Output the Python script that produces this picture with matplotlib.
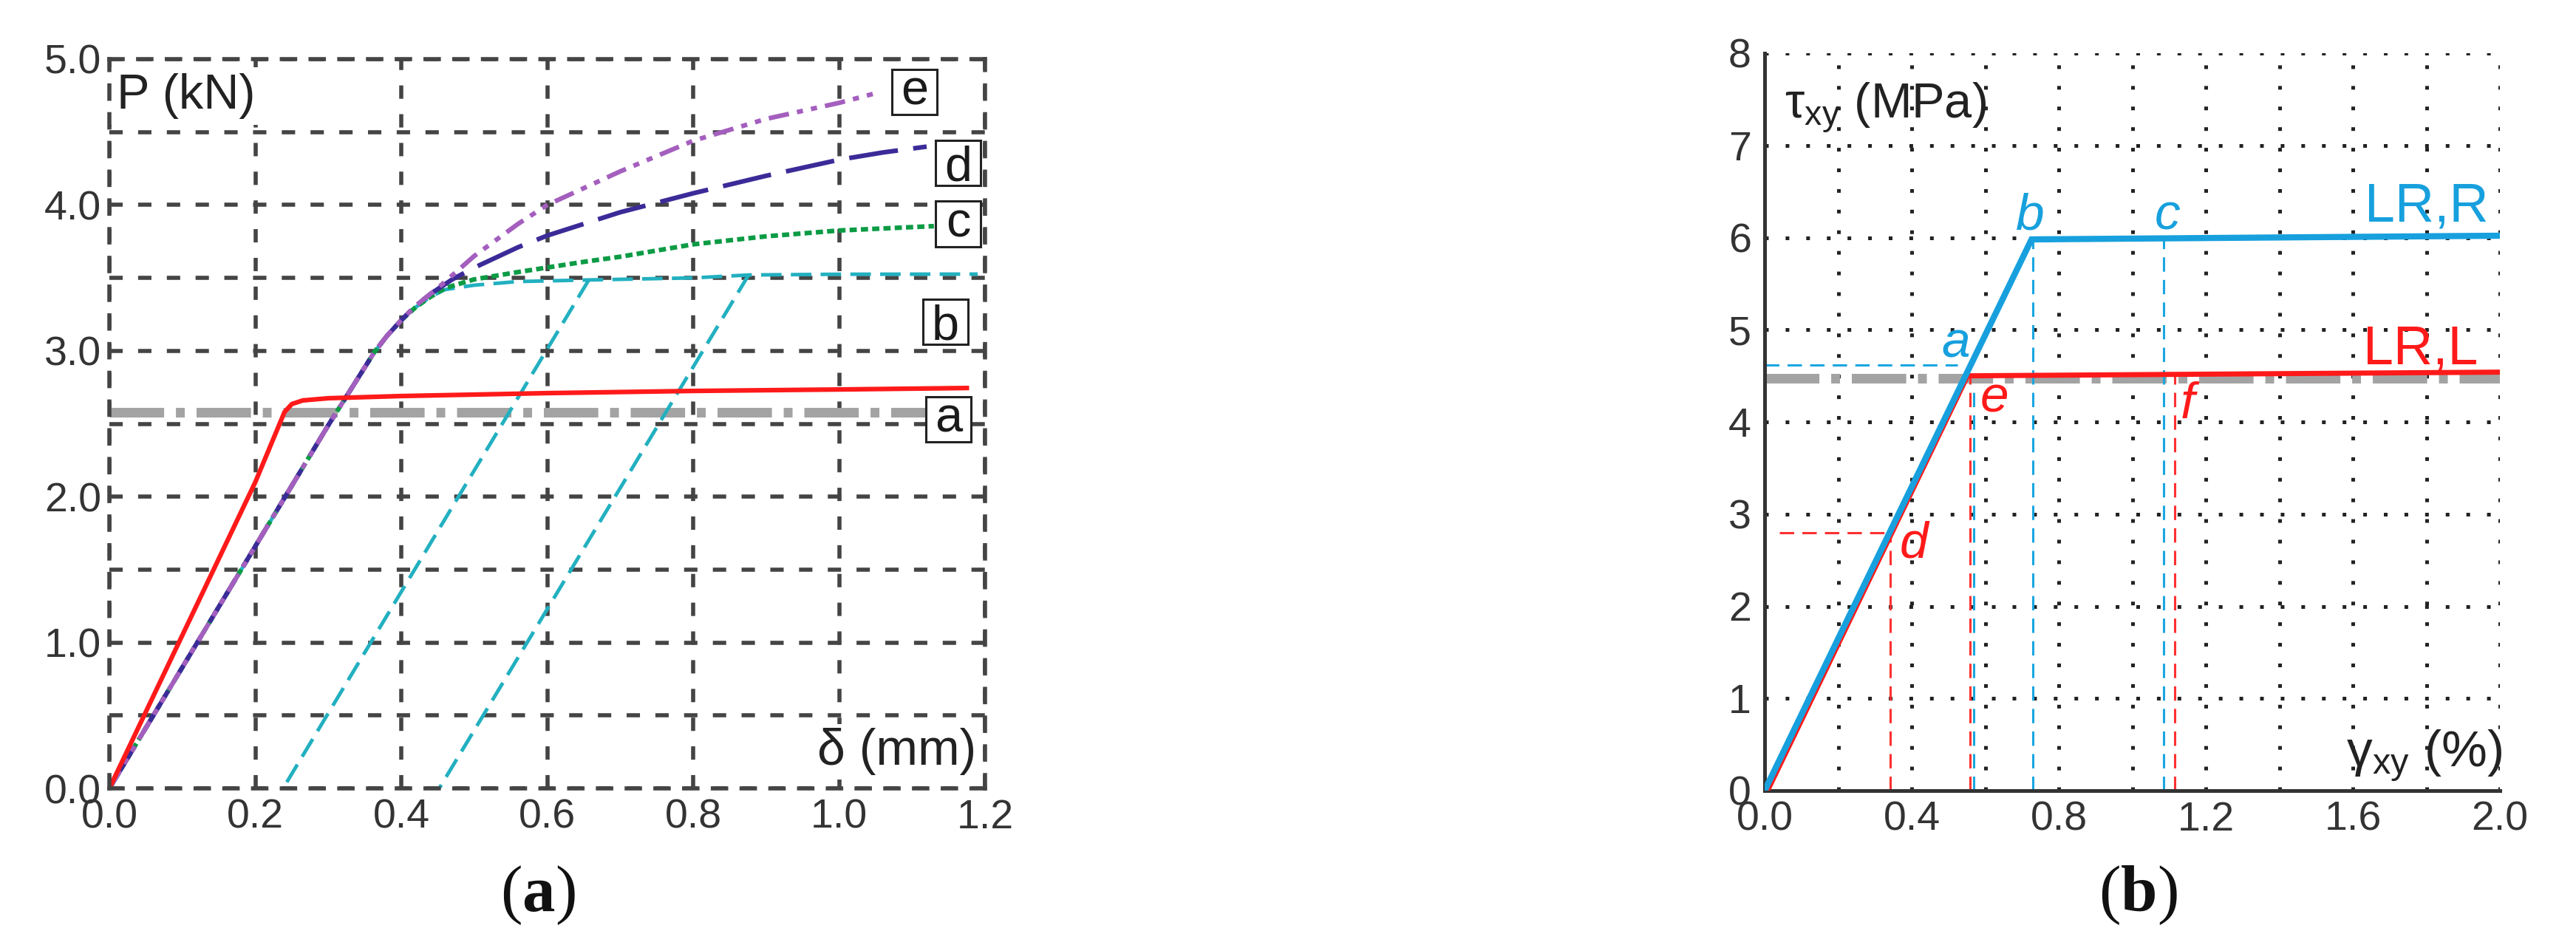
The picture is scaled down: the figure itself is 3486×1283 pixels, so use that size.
import numpy as np
import matplotlib
matplotlib.use("Agg")
import matplotlib.pyplot as plt
from matplotlib.patches import Rectangle

plt.rcParams['font.family'] = ['Liberation Sans', 'DejaVu Sans']
plt.rcParams['lines.scale_dashes'] = False
plt.rcParams['mathtext.fontset'] = 'custom'
plt.rcParams['mathtext.rm'] = 'Liberation Sans'
plt.rcParams['mathtext.it'] = 'Liberation Sans:italic'
plt.rcParams['mathtext.bf'] = 'Liberation Serif:bold'

# ---------------- panel (a) data: P (kN) vs delta (mm) ----------------
a_xticks = [0.0, 0.2, 0.4, 0.6, 0.8, 1.0, 1.2]
a_xticklabels = ["0.0", "0.2", "0.4", "0.6", "0.8", "1.0", "1.2"]
a_yticks = [0.0, 0.5, 1.0, 1.5, 2.0, 2.5, 3.0, 3.5, 4.0, 4.5, 5.0]
a_yticklabels = ["0.0", "", "1.0", "", "2.0", "", "3.0", "", "4.0", "", "5.0"]

# curve a (red, solid)
delta_a = [0.0, 0.10, 0.20, 0.24, 0.25, 0.265, 0.30, 0.40, 0.60, 0.80, 1.00, 1.175]
P_a = [0.0, 1.05, 2.10, 2.58, 2.635, 2.66, 2.675, 2.69, 2.71, 2.725, 2.735, 2.745]
# reference level (grey dash-dot)
delta_ref = [0.0, 1.185]
P_ref = [2.58, 2.58]
# curve b (cyan dashed) with two unloading branches
delta_b = [0.0, 0.10, 0.20, 0.30, 0.363, 0.38, 0.40, 0.42, 0.44, 0.46, 0.50, 0.56, 0.657, 0.80, 0.876, 1.00, 1.19]
P_b = [0.0, 0.83, 1.66, 2.49, 2.99, 3.10, 3.21, 3.30, 3.37, 3.42, 3.45, 3.475, 3.486, 3.50, 3.52, 3.525, 3.526]
delta_b_un1 = [0.657, 0.238]
P_b_un1 = [3.486, 0.0]
delta_b_un2 = [0.876, 0.452]
P_b_un2 = [3.52, 0.0]
# curve c (green dotted)
delta_c = [0.0, 0.10, 0.20, 0.30, 0.363, 0.38, 0.40, 0.42, 0.44, 0.46, 0.50, 0.56, 0.65, 0.70, 0.80, 0.90, 1.00, 1.13]
P_c = [0.0, 0.83, 1.66, 2.49, 2.99, 3.10, 3.21, 3.30, 3.37, 3.43, 3.49, 3.54, 3.61, 3.645, 3.73, 3.785, 3.825, 3.855]
# curve d (dark blue long dash)
delta_d = [0.0, 0.10, 0.20, 0.30, 0.363, 0.38, 0.40, 0.42, 0.44, 0.47, 0.50, 0.56, 0.60, 0.70, 0.80, 0.90, 1.00, 1.06, 1.12]
P_d = [0.0, 0.83, 1.66, 2.49, 2.99, 3.10, 3.21, 3.31, 3.39, 3.49, 3.57, 3.71, 3.79, 3.95, 4.08, 4.20, 4.31, 4.36, 4.40]
# curve e (purple dash-dot-dot)
delta_e = [0.0, 0.10, 0.20, 0.30, 0.363, 0.38, 0.40, 0.42, 0.45, 0.50, 0.56, 0.60, 0.70, 0.80, 0.90, 1.00, 1.053]
P_e = [0.0, 0.83, 1.66, 2.49, 2.99, 3.10, 3.21, 3.31, 3.43, 3.65, 3.87, 4.00, 4.23, 4.44, 4.59, 4.70, 4.77]
a_box_labels = ["e", "d", "c", "b", "a"]
a_box_x = [1.103, 1.163, 1.163, 1.146, 1.150]
a_box_y = [4.774, 4.29, 3.87, 3.20, 2.53]

# ---------------- panel (b) data: tau_xy (MPa) vs gamma_xy (%) ----------------
b_xticks = [0.0, 0.4, 0.8, 1.2, 1.6, 2.0]
b_xticklabels = ["0.0", "0.4", "0.8", "1.2", "1.6", "2.0"]
b_xgrid = [0.2, 0.4, 0.6, 0.8, 1.0, 1.2, 1.4, 1.6, 1.8, 2.0]
b_yticks = [0, 1, 2, 3, 4, 5, 6, 7, 8]
b_yticklabels = ["0", "1", "2", "3", "4", "5", "6", "7", "8"]

gamma_R = [0.0, 0.726, 2.0]
tau_R = [0.0, 5.98, 6.02]
gamma_L = [0.008, 0.552, 2.0]
tau_L = [0.0, 4.50, 4.54]
gamma_ref = [0.0, 2.0]
tau_ref = [4.47, 4.47]
# helper dashed lines: (x0, x1, y0, y1)
blue_guides = [(0.0, 0.525, 4.62, 4.62), (0.568, 0.568, 0.0, 4.40), (0.73, 0.73, 0.0, 5.98), (1.085, 1.085, 0.0, 6.0)]
red_guides = [(0.04, 0.33, 2.80, 2.80), (0.341, 0.341, 0.0, 2.80), (0.559, 0.559, 0.0, 4.50), (1.116, 1.116, 0.0, 4.52)]
blue_pts = ["a", "b", "c"]
blue_pts_x = [0.52, 0.72, 1.095]
blue_pts_y = [4.70, 6.09, 6.09]
red_pts = ["d", "e", "f"]
red_pts_x = [0.405, 0.625, 1.15]
red_pts_y = [2.53, 4.11, 4.04]

# ---------------- figure ----------------
W, H = 3487, 1283
fig = plt.figure(figsize=(W / 100, H / 100), dpi=100)
fig.patch.set_facecolor("white")

GRID = "#444444"
TICK = "#333333"
GREY = "#a3a3a3"

# ===== panel (a) =====
axA = fig.add_axes([148 / W, 1 - 1067 / H, (1333 - 148) / W, (1067 - 80) / H])
axA.set_xlim(0, 1.2)
axA.set_ylim(0, 5.0)
axA.set_xticks(a_xticks)
axA.set_xticklabels(a_xticklabels)
axA.set_yticks(a_yticks)
axA.set_yticklabels(a_yticklabels)
axA.tick_params(length=0, labelsize=40, labelcolor=TICK)
axA.tick_params(axis='x', pad=10)
axA.tick_params(axis='y', pad=8)
axA.set_axisbelow(True)
axA.grid(True, color=GRID, lw=4, linestyle=(0, (13, 15)))
for sp in axA.spines.values():
    sp.set_color(GRID)
    sp.set_linewidth(4)
    sp.set_linestyle((0, (13, 15)))
    sp.set_zorder(4)

axA.plot(delta_ref, P_ref, color=GREY, lw=9.4, linestyle=(0, (53, 11.5, 8.6, 11.5)),
         solid_capstyle='butt', dash_capstyle='butt', zorder=1.5)
axA.plot(delta_a, P_a, color="#ff1a1a", lw=4.5, zorder=3)
axA.plot(delta_b, P_b, color="#22b0c0", lw=3.5, linestyle=(0, (20, 9)), zorder=2.5)
axA.plot(delta_b_un1, P_b_un1, color="#22b0c0", lw=3.5, linestyle=(0, (20, 9)), zorder=2.5)
axA.plot(delta_b_un2, P_b_un2, color="#22b0c0", lw=3.5, linestyle=(0, (20, 9)), zorder=2.5)
axA.plot(delta_c, P_c, color="#0c9b45", lw=4.5, linestyle=(0, (7, 4)), zorder=2.6)
axA.plot(delta_d, P_d, color="#3b2b98", lw=4.5, linestyle=(0, (48, 15)), zorder=2.7)
axA.plot(delta_e, P_e, color="#a45fbe", lw=4.5,
         linestyle=(0, (20, 8, 6, 8, 6, 8)), zorder=2.8)

for lab, bx, by in zip(a_box_labels, a_box_x, a_box_y):
    axA.add_patch(Rectangle((bx - 0.031, by - 0.155), 0.062, 0.31, fill=True,
                            facecolor="white", edgecolor="#222222", lw=2.2, zorder=5))
    half = 0.52 * 48 / 2 if lab in "ace" else 0.73 * 48 / 2
    axA.annotate(lab, (bx, by), xytext=(0, -half), textcoords="offset points",
                 ha="center", va="baseline", fontsize=48, color="#1a1a1a", zorder=6)

axA.text(0.0084, 0.932, "P (kN)", transform=axA.transAxes, ha="left", va="baseline",
         fontsize=48, color="#222222", zorder=3,
         bbox=dict(facecolor="white", edgecolor="none", pad=6))
axA.text(0.99, 0.032, "δ (mm)", transform=axA.transAxes, ha="right", va="baseline",
         fontsize=49, color="#222222", zorder=3,
         bbox=dict(facecolor="white", edgecolor="none", pad=4))

# ===== panel (b) =====
axB = fig.add_axes([2388 / W, 1 - 1070 / H, (3383 - 2388) / W, (1070 - 72) / H])
axB.set_xlim(0, 2.0)
axB.set_ylim(0, 8)
axB.set_xticks(b_xticks)
axB.set_xticklabels(b_xticklabels)
axB.set_yticks(b_yticks)
axB.set_yticklabels(b_yticklabels)
axB.tick_params(length=0, labelsize=40, labelcolor=TICK)
axB.tick_params(axis='x', pad=10)
axB.tick_params(axis='y', pad=13)
axB.set_axisbelow(True)
DOT = (0, (3.6, 16.5))
for gx in b_xgrid:
    axB.axvline(gx, color="#222222", lw=3.6, linestyle=DOT, dash_capstyle='butt', zorder=0.5)
for gy in b_yticks[1:]:
    axB.axhline(gy, color="#222222", lw=3.6, linestyle=DOT, dash_capstyle='butt', zorder=0.5)
for k in ("top", "right"):
    axB.spines[k].set_visible(False)
for k in ("left", "bottom"):
    axB.spines[k].set_color("#333333")
    axB.spines[k].set_linewidth(3.6)

axB.plot(gamma_ref, tau_ref, color=GREY, lw=9.4, linestyle=(0, (53, 11.5, 8.6, 11.5)),
         dash_capstyle='butt', zorder=1.5)
for x0, x1, y0, y1 in blue_guides:
    axB.plot([x0, x1], [y0, y1], color="#1aa6e0", lw=2.2, linestyle=(0, (14, 8)), zorder=1.8)
for x0, x1, y0, y1 in red_guides:
    axB.plot([x0, x1], [y0, y1], color="#ff3030", lw=2.2, linestyle=(0, (14, 8)), zorder=1.8)
axB.plot(gamma_L, tau_L, color="#ff1a1a", lw=5.0, zorder=3, solid_joinstyle='miter')
axB.plot(gamma_R, tau_R, color="#17a0dd", lw=6.0, zorder=3.2, solid_joinstyle='miter')

for lab, px, py in zip(blue_pts, blue_pts_x, blue_pts_y):
    axB.text(px, py, lab, color="#17a0dd", fontsize=50, style="italic", ha="center", va="baseline")
for lab, px, py in zip(red_pts, red_pts_x, red_pts_y):
    axB.text(px, py, lab, color="#ff1a1a", fontsize=50, style="italic", ha="center", va="baseline")
axB.text(1.97, 6.18, "LR,R", color="#17a0dd", fontsize=53, ha="right", va="baseline")
axB.text(1.94, 4.63, "LR,L", color="#ff1a1a", fontsize=53, ha="right", va="baseline")

axB.text(0.027, 0.912, "τ$_{\\mathrm{xy}}$ (MPa)", transform=axB.transAxes, ha="left",
         va="baseline", fontsize=48, color="#222222")
axB.text(1.003, 0.033, "γ$_{\\mathrm{xy}}$ (%)", transform=axB.transAxes, ha="right",
         va="baseline", fontsize=50, color="#222222")

# panel captions
fig.text(728 / W, 1 - 1233 / H, "($\\mathbf{a}$)", family="Liberation Serif", fontsize=64,
         ha="center", va="baseline", color="#111111")
fig.text(2893 / W, 1 - 1233 / H, "($\\mathbf{b}$)", family="Liberation Serif", fontsize=64,
         ha="center", va="baseline", color="#111111")

fig.savefig("out.png", dpi=100, facecolor="white")
